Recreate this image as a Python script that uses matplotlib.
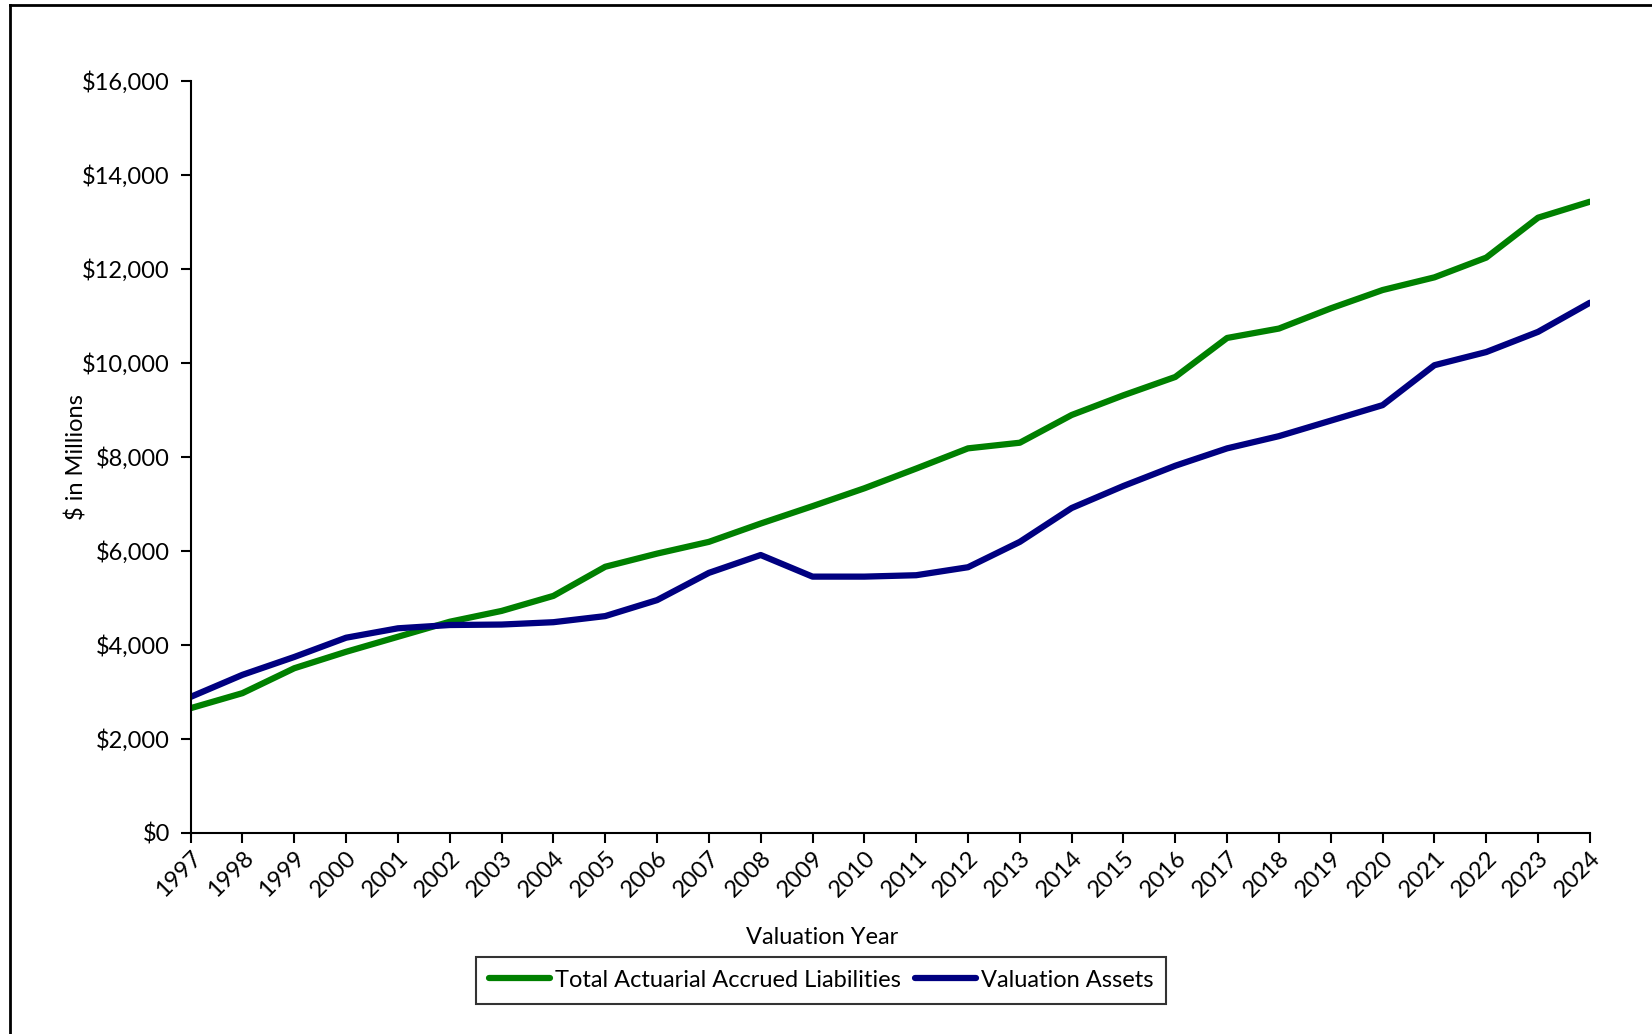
import matplotlib

matplotlib.use("Agg")

import matplotlib.pyplot as plt
from matplotlib.lines import Line2D
from matplotlib.ticker import FuncFormatter

years = list(range(1997, 2025))

liabilities = [2650, 2970, 3500, 3850, 4170, 4490, 4720, 5040, 5660, 5940,
               6190, 6580, 6950, 7330, 7750, 8180, 8300, 8890, 9310, 9700,
               10530, 10730, 11160, 11550, 11820, 12240, 13090, 13430]

assets = [2890, 3360, 3740, 4150, 4350, 4420, 4430, 4480, 4610, 4950,
          5530, 5910, 5450, 5450, 5480, 5650, 6190, 6910, 7380, 7810,
          8180, 8440, 8770, 9100, 9950, 10230, 10660, 11280]

series_labels = ["Total Actuarial Accrued Liabilities", "Valuation Assets"]

plt.rcParams["font.family"] = ["Lato", "DejaVu Sans"]
plt.rcParams["font.size"] = 17

fig = plt.figure(figsize=(16.52, 10.34), dpi=100)
ax = fig.add_axes([0.1154, 0.1947, 0.847, 0.727])

ax.plot(years, liabilities, color="#008000", lw=4.5, label=series_labels[0],
        solid_capstyle="round")
ax.plot(years, assets, color="#000080", lw=4.5, label=series_labels[1],
        solid_capstyle="round")

ax.set_xlim(years[0], years[-1])
ax.set_ylim(0, 16000)
ax.set_yticks(range(0, 16001, 2000))
ax.yaxis.set_major_formatter(FuncFormatter(lambda v, _: f"${v:,.0f}"))
ax.set_xticks(years)
ax.set_xticklabels([str(y) for y in years], rotation=45, ha="right",
                   rotation_mode="anchor")

for side in ("top", "right"):
    ax.spines[side].set_visible(False)
for side in ("left", "bottom"):
    ax.spines[side].set_linewidth(1.5)
ax.tick_params(direction="out", length=7, width=1.5, labelsize=17)
ax.tick_params(axis="y", pad=8)

ax.set_xlabel("Valuation Year", fontsize=17)
ax.xaxis.set_label_coords(0.451, -0.126)
ax.set_ylabel("$ in Millions", fontsize=17)
ax.yaxis.set_label_coords(-0.074, 0.5)

leg = fig.legend(loc="center", bbox_to_anchor=(0.497, 0.052), ncol=2,
                 fontsize=17, frameon=True, fancybox=False, edgecolor="black",
                 handlelength=2.6, handletextpad=0.2, columnspacing=0.6,
                 borderpad=0.55)
leg.get_frame().set_linewidth(1.5)

# outer chart border (right and bottom edges cropped in the original)
fig.add_artist(Line2D([0.006, 0.006], [0.0, 0.9947], color="black", lw=2,
                      transform=fig.transFigure))
fig.add_artist(Line2D([0.006, 1.0], [0.9947, 0.9947], color="black", lw=2,
                      transform=fig.transFigure))

fig.savefig("out.png", dpi=100)
